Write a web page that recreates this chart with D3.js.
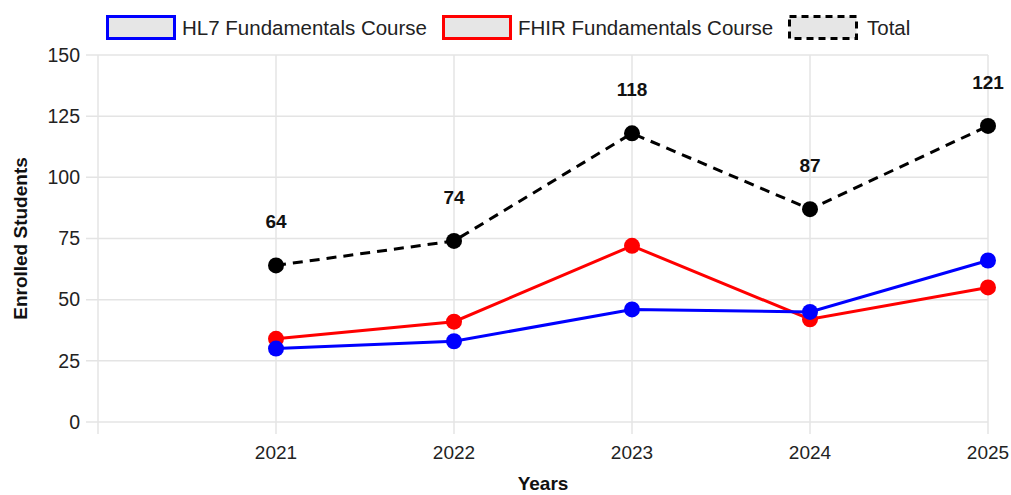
<!DOCTYPE html>
<html>
<head>
<meta charset="utf-8">
<script src="https://cdn.jsdelivr.net/npm/d3@7"></script>
<style>
  html, body { margin: 0; padding: 0; background: #fff; }
  svg { display: block; font-family: "Liberation Sans", Arial, sans-serif; }
</style>
</head>
<body>
<svg id="chart" width="1011" height="495"></svg>
<script>
const categories = ["", "2021", "2022", "2023", "2024", "2025"];
const years = ["2021", "2022", "2023", "2024", "2025"];
const hl7Values = [30, 33, 46, 45, 66];
const fhirValues = [34, 41, 72, 42, 55];
const totalValues = [64, 74, 118, 87, 121];
const yTicks = [0, 25, 50, 75, 100, 125, 150];
const seriesNames = ["HL7 Fundamentals Course", "FHIR Fundamentals Course", "Total"];

(function () {
const svg = d3.select("#chart");
const pLeft = 98, pRight = 988, pTop = 55, pBottom = 422;

const x = d3.scalePoint().domain(categories).range([pLeft, pRight]);
const y = d3.scaleLinear().domain([0, 150]).range([pBottom, pTop]);

const gridColor = "#e4e4e4";

// horizontal grid + y tick labels
const gGridY = svg.append("g");
gGridY.selectAll("line").data(yTicks).join("line")
  .attr("x1", pLeft - 12).attr("x2", pRight)
  .attr("y1", d => y(d)).attr("y2", d => y(d))
  .attr("stroke", gridColor).attr("stroke-width", 1.5);
gGridY.selectAll("text").data(yTicks).join("text")
  .attr("x", 80).attr("y", d => y(d)).attr("dy", "0.35em")
  .attr("text-anchor", "end").attr("font-size", 19.5).attr("fill", "#222")
  .text(d => d);

// vertical grid + x tick labels
const gGridX = svg.append("g");
gGridX.selectAll("line").data(categories).join("line")
  .attr("x1", d => x(d)).attr("x2", d => x(d))
  .attr("y1", pTop).attr("y2", pBottom + 12)
  .attr("stroke", gridColor).attr("stroke-width", 1.5);
gGridX.selectAll("text").data(categories).join("text")
  .attr("x", d => x(d)).attr("y", 459)
  .attr("text-anchor", "middle").attr("font-size", 19).attr("fill", "#222")
  .text(d => d);

// axis titles
svg.append("text").attr("x", (pLeft + pRight) / 2).attr("y", 490)
  .attr("text-anchor", "middle").attr("font-size", 19).attr("font-weight", "bold")
  .attr("fill", "#111").text("Years");
svg.append("text").attr("transform", `translate(27,${(pTop + pBottom) / 2}) rotate(-90)`)
  .attr("text-anchor", "middle").attr("font-size", 19).attr("font-weight", "bold")
  .attr("fill", "#111").text("Enrolled Students");

const series = [
  { name: seriesNames[0], values: hl7Values, color: "#0000ff", dash: null },
  { name: seriesNames[1], values: fhirValues, color: "#ff0000", dash: null },
  { name: seriesNames[2], values: totalValues, color: "#000000", dash: "10,7" }
];

const line = d3.line().x((d, i) => x(years[i])).y(d => y(d));

series.slice().reverse().forEach(s => {
  const g = svg.append("g");
  g.append("path").datum(s.values).attr("d", line)
    .attr("fill", "none").attr("stroke", s.color).attr("stroke-width", 3)
    .attr("stroke-dasharray", s.dash);
  g.selectAll("circle").data(s.values).join("circle")
    .attr("cx", (d, i) => x(years[i])).attr("cy", d => y(d)).attr("r", 8)
    .attr("fill", s.color);
});

// data labels on total
svg.append("g").selectAll("text").data(totalValues).join("text")
  .attr("x", (d, i) => x(years[i])).attr("y", d => y(d) - 37)
  .attr("text-anchor", "middle").attr("font-size", 19).attr("font-weight", "bold")
  .attr("fill", "#111").text(d => d);

// legend
const legendItems = [
  { name: seriesNames[0], color: "#0000ff", dash: null, bx: 106, tx: 182 },
  { name: seriesNames[1], color: "#ff0000", dash: null, bx: 442, tx: 518 },
  { name: seriesNames[2], color: "#000000", dash: "7,5", bx: 788, tx: 867 }
];
const lg = svg.append("g");
legendItems.forEach(it => {
  lg.append("rect").attr("x", it.bx + 1.5).attr("y", 16.5).attr("width", 67).attr("height", 22)
    .attr("fill", "#e6e6e6").attr("stroke", it.color).attr("stroke-width", 3)
    .attr("stroke-dasharray", it.dash);
  lg.append("text").attr("x", it.tx).attr("y", 27.5).attr("dy", "0.35em")
    .attr("font-size", 20.5).attr("fill", "#222").text(it.name);
});
})();
</script>
</body>
</html>
